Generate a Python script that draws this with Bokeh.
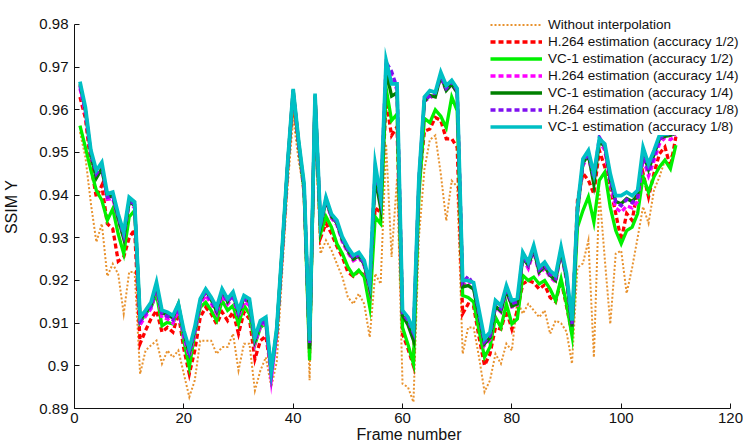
from bokeh.plotting import figure
from bokeh.models import Legend, LegendItem, FixedTicker, NumeralTickFormatter, Range1d
from bokeh.embed import file_html
from bokeh.resources import INLINE

# Frame index
frames = list(range(1, 111))

# SSIM (Y component) per frame for each method
no_interp = [
    0.9548, 0.9489, 0.9380, 0.9290, 0.9333, 0.9210, 0.9239, 0.9215, 0.9122, 0.9220,
    0.9220, 0.8981, 0.9036, 0.9048, 0.9059, 0.9005, 0.9036, 0.9020, 0.9036, 0.8981,
    0.8927, 0.8966, 0.9059, 0.9059, 0.9059, 0.9028, 0.9044, 0.9044, 0.9075, 0.8989,
    0.9052, 0.9052, 0.8942, 0.8989, 0.9020, 0.8950, 0.9010, 0.9220, 0.9420, 0.9583,
    0.9480, 0.9410, 0.8966, 0.9570, 0.9263, 0.9294, 0.9271, 0.9239, 0.9208, 0.9161,
    0.9145, 0.9169, 0.9145, 0.9067, 0.9216, 0.9192, 0.9520, 0.9255, 0.9440, 0.8958,
    0.8950, 0.8915, 0.9300, 0.9460, 0.9530, 0.9540, 0.9450, 0.9340, 0.9434, 0.9420,
    0.9028, 0.9090, 0.9090, 0.9020, 0.8939, 0.8966, 0.9028, 0.9005, 0.9052, 0.9036,
    0.9153, 0.9122, 0.9145, 0.9130, 0.9114, 0.9130, 0.9075, 0.9106, 0.9100, 0.9080,
    0.9005, 0.9230, 0.9240, 0.9294, 0.9020, 0.9410, 0.9250, 0.9098, 0.9263, 0.9270,
    0.9170, 0.9230, 0.9300, 0.9373, 0.9334, 0.9412, 0.9443, 0.9482, 0.9490, 0.9500,
]

h264_half = [
    0.9630, 0.9580, 0.9470, 0.9395, 0.9423, 0.9333, 0.9321, 0.9245, 0.9255, 0.9300,
    0.9320, 0.9052, 0.9083, 0.9110, 0.9130, 0.9079, 0.9090, 0.9079, 0.9122, 0.9040,
    0.8981, 0.9036, 0.9114, 0.9137, 0.9122, 0.9098, 0.9126, 0.9106, 0.9126, 0.9075,
    0.9126, 0.9110, 0.9016, 0.9059, 0.9070, 0.8985, 0.9075, 0.9265, 0.9465, 0.9630,
    0.9515, 0.9405, 0.9030, 0.9625, 0.9300, 0.9334, 0.9310, 0.9280, 0.9255, 0.9220,
    0.9210, 0.9222, 0.9212, 0.9175, 0.9370, 0.9360, 0.9620, 0.9540, 0.9560, 0.9075,
    0.9040, 0.9000, 0.9420, 0.9550, 0.9555, 0.9582, 0.9575, 0.9532, 0.9532, 0.9512,
    0.9122, 0.9145, 0.9140, 0.9067, 0.9001, 0.9028, 0.9090, 0.9086, 0.9130, 0.9086,
    0.9130, 0.9192, 0.9200, 0.9195, 0.9180, 0.9190, 0.9160, 0.9150, 0.9200, 0.9140,
    0.9075, 0.9388, 0.9451, 0.9435, 0.9403, 0.9505, 0.9466, 0.9419, 0.9357, 0.9294,
    0.9357, 0.9341, 0.9411, 0.9451, 0.9396, 0.9451, 0.9497, 0.9513, 0.9466, 0.9537,
]

vc1_half = [
    0.9563, 0.9512, 0.9458, 0.9411, 0.9388, 0.9341, 0.9368, 0.9309, 0.9263, 0.9349,
    0.9364, 0.9102, 0.9122, 0.9137, 0.9169, 0.9094, 0.9102, 0.9098, 0.9137, 0.9059,
    0.8997, 0.9075, 0.9137, 0.9149, 0.9130, 0.9106, 0.9153, 0.9130, 0.9141, 0.9098,
    0.9141, 0.9122, 0.9050, 0.9090, 0.9100, 0.8990, 0.9080, 0.9270, 0.9470, 0.9637,
    0.9520, 0.9410, 0.9013, 0.9630, 0.9310, 0.9350, 0.9325, 0.9286, 0.9263, 0.9232,
    0.9212, 0.9224, 0.9208, 0.9138, 0.9349, 0.9333, 0.9650, 0.9575, 0.9590, 0.9090,
    0.9050, 0.9005, 0.9400, 0.9580, 0.9570, 0.9600, 0.9585, 0.9558, 0.9630, 0.9598,
    0.9165, 0.9160, 0.9150, 0.9083, 0.9020, 0.9044, 0.9114, 0.9090, 0.9145, 0.9098,
    0.9110, 0.9212, 0.9200, 0.9208, 0.9192, 0.9200, 0.9180, 0.9153, 0.9204, 0.9145,
    0.9071, 0.9325, 0.9364, 0.9396, 0.9337, 0.9435, 0.9454, 0.9372, 0.9317, 0.9286,
    0.9317, 0.9325, 0.9357, 0.9443, 0.9407, 0.9443, 0.9466, 0.9482, 0.9462, 0.9517,
]

h264_quarter = [
    0.9650, 0.9590, 0.9490, 0.9445, 0.9462, 0.9390, 0.9392, 0.9342, 0.9300, 0.9382,
    0.9370, 0.9096, 0.9116, 0.9134, 0.9180, 0.9112, 0.9110, 0.9100, 0.9130, 0.9066,
    0.9022, 0.9075, 0.9144, 0.9165, 0.9146, 0.9122, 0.9165, 0.9144, 0.9160, 0.9115,
    0.9150, 0.9142, 0.9052, 0.9092, 0.9100, 0.8968, 0.9078, 0.9268, 0.9470, 0.9642,
    0.9518, 0.9416, 0.9048, 0.9630, 0.9326, 0.9386, 0.9346, 0.9330, 0.9290, 0.9265,
    0.9246, 0.9254, 0.9234, 0.9178, 0.9455, 0.9385, 0.9705, 0.9680, 0.9645, 0.9118,
    0.9100, 0.9068, 0.9430, 0.9620, 0.9628, 0.9635, 0.9675, 0.9645, 0.9660, 0.9640,
    0.9188, 0.9200, 0.9182, 0.9114, 0.9048, 0.9062, 0.9138, 0.9126, 0.9175, 0.9138,
    0.9142, 0.9252, 0.9228, 0.9268, 0.9216, 0.9228, 0.9208, 0.9196, 0.9265, 0.9200,
    0.9090, 0.9360, 0.9470, 0.9490, 0.9435, 0.9525, 0.9505, 0.9425, 0.9370, 0.9360,
    0.9375, 0.9370, 0.9385, 0.9485, 0.9445, 0.9480, 0.9520, 0.9535, 0.9530, 0.9540,
]

vc1_quarter = [
    0.9660, 0.9598, 0.9495, 0.9440, 0.9462, 0.9396, 0.9400, 0.9345, 0.9298, 0.9385,
    0.9376, 0.9108, 0.9126, 0.9142, 0.9188, 0.9124, 0.9120, 0.9112, 0.9145, 0.9076,
    0.9030, 0.9084, 0.9152, 0.9176, 0.9155, 0.9128, 0.9176, 0.9150, 0.9168, 0.9122,
    0.9160, 0.9150, 0.9060, 0.9100, 0.9108, 0.8985, 0.9085, 0.9275, 0.9476, 0.9646,
    0.9524, 0.9420, 0.9040, 0.9634, 0.9325, 0.9388, 0.9350, 0.9334, 0.9295, 0.9270,
    0.9250, 0.9258, 0.9238, 0.9182, 0.9440, 0.9370, 0.9690, 0.9632, 0.9640, 0.9118,
    0.9096, 0.9060, 0.9430, 0.9620, 0.9634, 0.9630, 0.9680, 0.9645, 0.9660, 0.9640,
    0.9185, 0.9188, 0.9180, 0.9115, 0.9052, 0.9066, 0.9140, 0.9128, 0.9178, 0.9140,
    0.9145, 0.9255, 0.9235, 0.9272, 0.9220, 0.9233, 0.9212, 0.9200, 0.9268, 0.9205,
    0.9092, 0.9360, 0.9475, 0.9495, 0.9425, 0.9525, 0.9515, 0.9435, 0.9385, 0.9380,
    0.9392, 0.9385, 0.9400, 0.9500, 0.9460, 0.9495, 0.9532, 0.9538, 0.9540, 0.9545,
]

h264_eighth = [
    0.9656, 0.9598, 0.9498, 0.9450, 0.9468, 0.9395, 0.9398, 0.9350, 0.9305, 0.9388,
    0.9378, 0.9104, 0.9122, 0.9140, 0.9186, 0.9120, 0.9116, 0.9108, 0.9136, 0.9074,
    0.9030, 0.9082, 0.9150, 0.9172, 0.9152, 0.9130, 0.9172, 0.9150, 0.9165, 0.9122,
    0.9156, 0.9148, 0.9060, 0.9098, 0.9105, 0.8978, 0.9082, 0.9272, 0.9474, 0.9645,
    0.9522, 0.9420, 0.9052, 0.9632, 0.9330, 0.9392, 0.9352, 0.9336, 0.9296, 0.9272,
    0.9252, 0.9260, 0.9240, 0.9185, 0.9462, 0.9388, 0.9712, 0.9690, 0.9652, 0.9124,
    0.9106, 0.9076, 0.9436, 0.9625, 0.9632, 0.9640, 0.9680, 0.9650, 0.9665, 0.9645,
    0.9195, 0.9210, 0.9190, 0.9122, 0.9056, 0.9070, 0.9146, 0.9134, 0.9182, 0.9146,
    0.9150, 0.9260, 0.9236, 0.9276, 0.9225, 0.9236, 0.9215, 0.9205, 0.9272, 0.9208,
    0.9098, 0.9365, 0.9478, 0.9498, 0.9440, 0.9536, 0.9515, 0.9440, 0.9385, 0.9375,
    0.9390, 0.9382, 0.9395, 0.9495, 0.9455, 0.9490, 0.9530, 0.9545, 0.9540, 0.9548,
]

vc1_eighth = [
    0.9666, 0.9606, 0.9505, 0.9458, 0.9477, 0.9403, 0.9407, 0.9356, 0.9313, 0.9395,
    0.9384, 0.9114, 0.9130, 0.9149, 0.9196, 0.9130, 0.9126, 0.9118, 0.9145, 0.9083,
    0.9040, 0.9091, 0.9157, 0.9180, 0.9161, 0.9137, 0.9180, 0.9157, 0.9173, 0.9130,
    0.9165, 0.9157, 0.9067, 0.9106, 0.9114, 0.8989, 0.9090, 0.9280, 0.9480, 0.9649,
    0.9528, 0.9427, 0.9059, 0.9638, 0.9334, 0.9395, 0.9356, 0.9341, 0.9302, 0.9278,
    0.9259, 0.9266, 0.9247, 0.9192, 0.9473, 0.9395, 0.9716, 0.9661, 0.9661, 0.9130,
    0.9114, 0.9083, 0.9442, 0.9630, 0.9645, 0.9641, 0.9688, 0.9657, 0.9669, 0.9650,
    0.9200, 0.9200, 0.9195, 0.9130, 0.9064, 0.9079, 0.9153, 0.9141, 0.9188, 0.9153,
    0.9158, 0.9266, 0.9243, 0.9282, 0.9231, 0.9243, 0.9223, 0.9212, 0.9278, 0.9216,
    0.9106, 0.9372, 0.9485, 0.9505, 0.9450, 0.9532, 0.9520, 0.9450, 0.9399, 0.9399,
    0.9407, 0.9399, 0.9411, 0.9512, 0.9473, 0.9505, 0.9540, 0.9543, 0.9545, 0.9550,
]

x_ticks = [0, 20, 40, 60, 80, 100, 120]
y_ticks = [0.89, 0.90, 0.91, 0.92, 0.93, 0.94, 0.95, 0.96, 0.97, 0.98]
x_min, x_max = 0, 120
y_min, y_max = 0.89, 0.98

FONT = "Liberation Sans"

# The frame reaches a little past the last ticks (up and to the right) so the
# legend has room; both axes are bounded to their tick spans.
p = figure(
    width=743, height=448,
    output_backend="svg", toolbar_location=None,
    x_range=Range1d(x_min, 122.37), y_range=Range1d(y_min, 0.98445),
    min_border_left=73, min_border_right=0,
    min_border_top=5, min_border_bottom=40,
)
p.xgrid.visible = False
p.ygrid.visible = False
p.outline_line_color = None
p.background_fill_color = "white"
p.border_fill_color = "white"

series = [
    ("Without interpolation",              no_interp,    "#E8922E", 2.0, "2 2"),
    ("H.264 estimation (accuracy 1/2)",    h264_half,    "#FF0000", 3.3, "5 3"),
    ("VC-1 estimation (accuracy 1/2)",     vc1_half,     "#00F000", 3.3, "solid"),
    ("H.264 estimation (accuracy 1/4)",    h264_quarter, "#FF00FF", 3.3, "5 3"),
    ("VC-1 estimation (accuracy 1/4)",     vc1_quarter,  "#008000", 3.3, "solid"),
    ("H.264 estimation (accuracy 1/8)",    h264_eighth,  "#7F10F0", 3.3, "5 3"),
    ("VC-1 estimation (accuracy 1/8)",     vc1_eighth,   "#00BFC4", 3.7, "solid"),
]

items = []
for label, vals, color, width, dash in series:
    r = p.line(frames, vals, line_color=color, line_width=width,
               line_dash=dash, line_join="miter")
    items.append(LegendItem(label=label, renderers=[r]))

legend = Legend(
    items=items, location=(416, 273),
    glyph_width=52, glyph_height=17, label_height=17, spacing=0,
    label_standoff=6, padding=4, margin=0,
    label_text_font=FONT, label_text_font_size="13.5px", label_text_color="#111111",
    border_line_color=None, background_fill_color="white", background_fill_alpha=1.0,
)
p.add_layout(legend)

for ax in (p.xaxis, p.yaxis):
    ax.axis_line_color = "#111111"
    ax.major_tick_line_color = "#111111"
    ax.major_tick_in = 5
    ax.major_tick_out = 0
    ax.minor_tick_in = 0
    ax.minor_tick_out = 0
    ax.major_label_text_font = FONT
    ax.major_label_text_font_size = "15px"
    ax.major_label_text_color = "#111111"
    ax.axis_label_text_font = FONT
    ax.axis_label_text_font_size = "16px"
    ax.axis_label_text_font_style = "normal"
    ax.axis_label_text_color = "#111111"

p.xaxis.bounds = (x_min, x_max)
p.yaxis.bounds = (y_min, y_max)
p.xaxis.ticker = FixedTicker(ticks=x_ticks)
p.yaxis.ticker = FixedTicker(ticks=y_ticks)
p.yaxis.formatter = NumeralTickFormatter(format="0.[00]")
p.xaxis.axis_label = "Frame number"
p.yaxis.axis_label = "SSIM Y"
p.xaxis.major_label_standoff = 4
p.xaxis.axis_label_standoff = 0
p.yaxis.major_label_standoff = 6
p.yaxis.axis_label_standoff = 16

open("out.html", "w").write(file_html(p, INLINE))
